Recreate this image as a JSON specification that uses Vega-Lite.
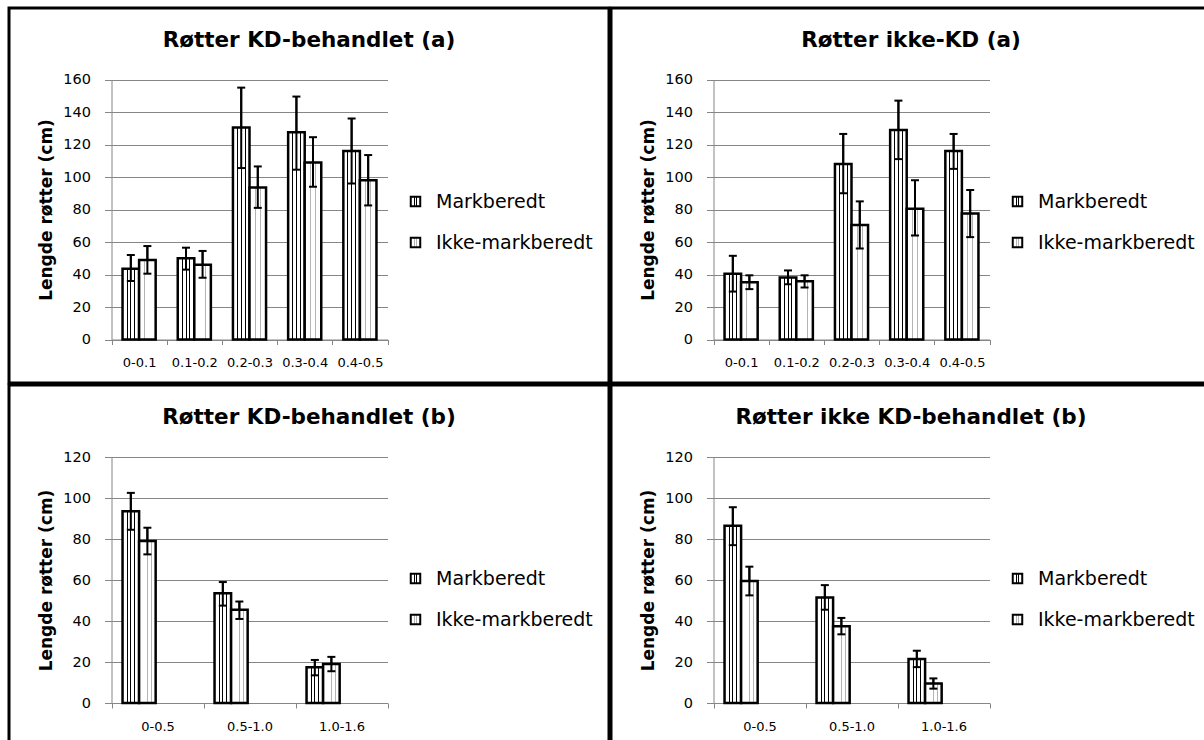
{
  "$schema": "https://vega.github.io/schema/vega-lite/v6.json",
  "padding": {"left": 7, "top": 6, "right": 0, "bottom": 0},
  "background": "white",
  "datasets": {
    "ta": [
      {"dybde": "0-0.1", "behandling": "Markberedt", "lengde": 43.5, "lav": 36, "hoy": 52},
      {"dybde": "0-0.1", "behandling": "Ikke-markberedt", "lengde": 49, "lav": 40.5, "hoy": 57.5},
      {"dybde": "0.1-0.2", "behandling": "Markberedt", "lengde": 50, "lav": 43, "hoy": 56.5},
      {"dybde": "0.1-0.2", "behandling": "Ikke-markberedt", "lengde": 46, "lav": 38, "hoy": 54.5},
      {"dybde": "0.2-0.3", "behandling": "Markberedt", "lengde": 130.5, "lav": 105.5, "hoy": 155},
      {"dybde": "0.2-0.3", "behandling": "Ikke-markberedt", "lengde": 93.5, "lav": 81, "hoy": 106.5},
      {"dybde": "0.3-0.4", "behandling": "Markberedt", "lengde": 127.5, "lav": 104.5, "hoy": 149.5},
      {"dybde": "0.3-0.4", "behandling": "Ikke-markberedt", "lengde": 109, "lav": 94, "hoy": 124.5},
      {"dybde": "0.4-0.5", "behandling": "Markberedt", "lengde": 116, "lav": 96, "hoy": 136},
      {"dybde": "0.4-0.5", "behandling": "Ikke-markberedt", "lengde": 98, "lav": 82.5, "hoy": 113.5}
    ],
    "tb": [
      {"dybde": "0-0.1", "behandling": "Markberedt", "lengde": 40.5, "lav": 29.5, "hoy": 51.5},
      {"dybde": "0-0.1", "behandling": "Ikke-markberedt", "lengde": 35.2, "lav": 31, "hoy": 39.5},
      {"dybde": "0.1-0.2", "behandling": "Markberedt", "lengde": 38.2, "lav": 34, "hoy": 42.5},
      {"dybde": "0.1-0.2", "behandling": "Ikke-markberedt", "lengde": 35.8, "lav": 32, "hoy": 39.5},
      {"dybde": "0.2-0.3", "behandling": "Markberedt", "lengde": 108, "lav": 90, "hoy": 126.5},
      {"dybde": "0.2-0.3", "behandling": "Ikke-markberedt", "lengde": 70.5, "lav": 56, "hoy": 85},
      {"dybde": "0.3-0.4", "behandling": "Markberedt", "lengde": 129, "lav": 111, "hoy": 147},
      {"dybde": "0.3-0.4", "behandling": "Ikke-markberedt", "lengde": 80.5, "lav": 64, "hoy": 98},
      {"dybde": "0.4-0.5", "behandling": "Markberedt", "lengde": 116, "lav": 105, "hoy": 126.5},
      {"dybde": "0.4-0.5", "behandling": "Ikke-markberedt", "lengde": 77.5, "lav": 63, "hoy": 92}
    ],
    "bl": [
      {"dybde": "0-0.5", "behandling": "Markberedt", "lengde": 93.5, "lav": 84.5, "hoy": 102.5},
      {"dybde": "0-0.5", "behandling": "Ikke-markberedt", "lengde": 79, "lav": 72.5, "hoy": 85.5},
      {"dybde": "0.5-1.0", "behandling": "Markberedt", "lengde": 53.5, "lav": 47.5, "hoy": 59},
      {"dybde": "0.5-1.0", "behandling": "Ikke-markberedt", "lengde": 45.5, "lav": 41, "hoy": 49.5},
      {"dybde": "1.0-1.6", "behandling": "Markberedt", "lengde": 17.5, "lav": 13.5, "hoy": 21},
      {"dybde": "1.0-1.6", "behandling": "Ikke-markberedt", "lengde": 19, "lav": 15.5, "hoy": 22.5}
    ],
    "br": [
      {"dybde": "0-0.5", "behandling": "Markberedt", "lengde": 86.5, "lav": 77, "hoy": 95.5},
      {"dybde": "0-0.5", "behandling": "Ikke-markberedt", "lengde": 59.5, "lav": 52.5, "hoy": 66.5},
      {"dybde": "0.5-1.0", "behandling": "Markberedt", "lengde": 51.5, "lav": 45.5, "hoy": 57.5},
      {"dybde": "0.5-1.0", "behandling": "Ikke-markberedt", "lengde": 37.5, "lav": 33.5, "hoy": 41.5},
      {"dybde": "1.0-1.6", "behandling": "Markberedt", "lengde": 21.5, "lav": 17.5, "hoy": 25.5},
      {"dybde": "1.0-1.6", "behandling": "Ikke-markberedt", "lengde": 9.5, "lav": 7, "hoy": 12}
    ]
  },
  "resolve": {"scale": {"color": "independent"}, "legend": {"color": "independent"}},
  "vconcat": [
    {
      "resolve": {"scale": {"color": "independent"}, "legend": {"color": "independent"}},
      "hconcat": [
        {
          "width": 600, "height": 375,
          "data": {"name": "ta"},
          "title": {"text": "Røtter KD-behandlet (a)", "fontSize": 21.5, "fontWeight": "bold", "color": "black", "anchor": "middle", "frame": "group", "orient": "top", "baseline": "middle", "offset": 0, "dy": 54},
          "resolve": {"scale": {"y": "independent"}},
          "encoding": {
            "x": {"field": "dybde", "type": "nominal", "sort": null, "scale": {"range": [102.5, 378.5], "paddingInner": 0, "paddingOuter": 0},
                  "axis": {"title": null, "labelAngle": 0, "labelFontSize": 13, "labelColor": "black", "domainColor": "#868686", "tickColor": "#868686", "tickSize": 5, "tickBand": "extent", "labelPadding": 12, "offset": -43.5, "grid": false}},
            "xOffset": {"field": "behandling", "type": "nominal", "sort": ["Markberedt", "Ikke-markberedt"], "scale": {"paddingInner": 0, "paddingOuter": 0.667}}
          },
          "layer": [
            {"mark": {"type": "rule", "strokeWidth": 2},
             "encoding": {"y": {"field": "lav", "type": "quantitative", "scale": {"domain": [0, 160], "range": [331.5, 71.5], "nice": false},
                     "axis": {"orient": "left", "offset": 0, "grid": true, "gridColor": "#868686", "values": [0, 20, 40, 60, 80, 100, 120, 140, 160], "labels": false, "ticks": false, "domain": false, "title": null}}, "y2": {"field": "hoy"},
               "color": {"field": "behandling", "type": "nominal", "sort": ["Markberedt", "Ikke-markberedt"], "scale": {"domain": ["Markberedt", "Ikke-markberedt"], "range": ["black", "black"]},
                 "legend": {"title": null, "orient": "none", "legendX": 397, "legendY": 184, "symbolType": "square", "symbolSize": 90, "symbolStrokeColor": "black", "symbolStrokeWidth": 2, "symbolOpacity": 1, "labelFontSize": 19, "labelColor": "black", "labelOffset": 11, "rowPadding": 21, "padding": 0, "labelLimit": 300,
                   "encode": {"symbols": {"update": {"stroke": {"value": "black"}, "strokeWidth": {"value": 2}, "fill": [{"test": "datum.value === 'Markberedt'", "value": {"gradient": "linear", "x1": 0, "x2": 1, "y1": 0, "y2": 0, "stops": [{"offset": 0, "color": "white"}, {"offset": 0.3, "color": "white"}, {"offset": 0.3, "color": "black"}, {"offset": 0.4, "color": "black"}, {"offset": 0.4, "color": "white"}, {"offset": 0.6, "color": "white"}, {"offset": 0.6, "color": "black"}, {"offset": 0.7, "color": "black"}, {"offset": 0.7, "color": "white"}, {"offset": 1, "color": "white"}]}}, {"value": {"gradient": "linear", "x1": 0, "x2": 1, "y1": 0, "y2": 0, "stops": [{"offset": 0, "color": "white"}, {"offset": 0.3, "color": "white"}, {"offset": 0.3, "color": "#b4b4b4"}, {"offset": 0.4, "color": "#b4b4b4"}, {"offset": 0.4, "color": "white"}, {"offset": 0.6, "color": "white"}, {"offset": 0.6, "color": "#b4b4b4"}, {"offset": 0.7, "color": "#b4b4b4"}, {"offset": 0.7, "color": "white"}, {"offset": 1, "color": "white"}]}}]}}}}}
             }},
            {"mark": {"type": "bar", "stroke": "black", "strokeWidth": 2.5, "opacity": 1},
             "encoding": {
               "y": {"field": "lengde", "type": "quantitative", "stack": null, "scale": {"domain": [0, 160], "range": [331.5, 71.5], "nice": false},
                     "axis": {"title": "Lengde røtter (cm)", "orient": "left", "grid": false, "values": [0, 20, 40, 60, 80, 100, 120, 140, 160]}},
               "fill": {"condition": {"test": "datum.behandling === 'Markberedt'", "value": {"gradient": "linear", "x1": 0, "x2": 1, "y1": 0, "y2": 0, "stops": [{"offset": 0, "color": "white"}, {"offset": 0.24, "color": "white"}, {"offset": 0.24, "color": "black"}, {"offset": 0.31, "color": "black"}, {"offset": 0.31, "color": "white"}, {"offset": 0.47, "color": "white"}, {"offset": 0.47, "color": "black"}, {"offset": 0.54, "color": "black"}, {"offset": 0.54, "color": "white"}, {"offset": 0.7, "color": "white"}, {"offset": 0.7, "color": "black"}, {"offset": 0.77, "color": "black"}, {"offset": 0.77, "color": "white"}, {"offset": 1, "color": "white"}]}},
                        "value": {"gradient": "linear", "x1": 0, "x2": 1, "y1": 0, "y2": 0, "stops": [{"offset": 0, "color": "white"}, {"offset": 0.32, "color": "white"}, {"offset": 0.32, "color": "#b4b4b4"}, {"offset": 0.37, "color": "#b4b4b4"}, {"offset": 0.37, "color": "white"}, {"offset": 0.63, "color": "white"}, {"offset": 0.63, "color": "#b4b4b4"}, {"offset": 0.68, "color": "#b4b4b4"}, {"offset": 0.68, "color": "white"}, {"offset": 1, "color": "white"}]}}
             }},
            {"mark": {"type": "rule", "strokeWidth": 2, "color": "black"},
             "encoding": {"y": {"field": "lav", "type": "quantitative", "scale": {"domain": [0, 160], "range": [331.5, 71.5], "nice": false}, "axis": null}, "y2": {"field": "hoy"}}},
            {"mark": {"type": "tick", "color": "black", "thickness": 2, "size": 8, "opacity": 1},
             "encoding": {"y": {"field": "lav", "type": "quantitative", "scale": {"domain": [0, 160], "range": [331.5, 71.5], "nice": false}, "axis": null}}},
            {"mark": {"type": "tick", "color": "black", "thickness": 2, "size": 8, "opacity": 1},
             "encoding": {"y": {"field": "hoy", "type": "quantitative", "scale": {"domain": [0, 160], "range": [331.5, 71.5], "nice": false}, "axis": null}}}
          ]
        },
        {
          "width": 600, "height": 375,
          "data": {"name": "tb"},
          "title": {"text": "Røtter ikke-KD (a)", "fontSize": 21.5, "fontWeight": "bold", "color": "black", "anchor": "middle", "frame": "group", "orient": "top", "baseline": "middle", "offset": 0, "dy": 54},
          "resolve": {"scale": {"y": "independent"}},
          "encoding": {
            "x": {"field": "dybde", "type": "nominal", "sort": null, "scale": {"range": [102.5, 378.5], "paddingInner": 0, "paddingOuter": 0},
                  "axis": {"title": null, "labelAngle": 0, "labelFontSize": 13, "labelColor": "black", "domainColor": "#868686", "tickColor": "#868686", "tickSize": 5, "tickBand": "extent", "labelPadding": 12, "offset": -43.5, "grid": false}},
            "xOffset": {"field": "behandling", "type": "nominal", "sort": ["Markberedt", "Ikke-markberedt"], "scale": {"paddingInner": 0, "paddingOuter": 0.667}}
          },
          "layer": [
            {"mark": {"type": "rule", "strokeWidth": 2},
             "encoding": {"y": {"field": "lav", "type": "quantitative", "scale": {"domain": [0, 160], "range": [331.5, 71.5], "nice": false},
                     "axis": {"orient": "left", "offset": 0, "grid": true, "gridColor": "#868686", "values": [0, 20, 40, 60, 80, 100, 120, 140, 160], "labels": false, "ticks": false, "domain": false, "title": null}}, "y2": {"field": "hoy"},
               "color": {"field": "behandling", "type": "nominal", "sort": ["Markberedt", "Ikke-markberedt"], "scale": {"domain": ["Markberedt", "Ikke-markberedt"], "range": ["black", "black"]},
                 "legend": {"title": null, "orient": "none", "legendX": 397, "legendY": 184, "symbolType": "square", "symbolSize": 90, "symbolStrokeColor": "black", "symbolStrokeWidth": 2, "symbolOpacity": 1, "labelFontSize": 19, "labelColor": "black", "labelOffset": 11, "rowPadding": 21, "padding": 0, "labelLimit": 300,
                   "encode": {"symbols": {"update": {"stroke": {"value": "black"}, "strokeWidth": {"value": 2}, "fill": [{"test": "datum.value === 'Markberedt'", "value": {"gradient": "linear", "x1": 0, "x2": 1, "y1": 0, "y2": 0, "stops": [{"offset": 0, "color": "white"}, {"offset": 0.3, "color": "white"}, {"offset": 0.3, "color": "black"}, {"offset": 0.4, "color": "black"}, {"offset": 0.4, "color": "white"}, {"offset": 0.6, "color": "white"}, {"offset": 0.6, "color": "black"}, {"offset": 0.7, "color": "black"}, {"offset": 0.7, "color": "white"}, {"offset": 1, "color": "white"}]}}, {"value": {"gradient": "linear", "x1": 0, "x2": 1, "y1": 0, "y2": 0, "stops": [{"offset": 0, "color": "white"}, {"offset": 0.3, "color": "white"}, {"offset": 0.3, "color": "#b4b4b4"}, {"offset": 0.4, "color": "#b4b4b4"}, {"offset": 0.4, "color": "white"}, {"offset": 0.6, "color": "white"}, {"offset": 0.6, "color": "#b4b4b4"}, {"offset": 0.7, "color": "#b4b4b4"}, {"offset": 0.7, "color": "white"}, {"offset": 1, "color": "white"}]}}]}}}}}
             }},
            {"mark": {"type": "bar", "stroke": "black", "strokeWidth": 2.5, "opacity": 1},
             "encoding": {
               "y": {"field": "lengde", "type": "quantitative", "stack": null, "scale": {"domain": [0, 160], "range": [331.5, 71.5], "nice": false},
                     "axis": {"title": "Lengde røtter (cm)", "orient": "left", "grid": false, "values": [0, 20, 40, 60, 80, 100, 120, 140, 160]}},
               "fill": {"condition": {"test": "datum.behandling === 'Markberedt'", "value": {"gradient": "linear", "x1": 0, "x2": 1, "y1": 0, "y2": 0, "stops": [{"offset": 0, "color": "white"}, {"offset": 0.24, "color": "white"}, {"offset": 0.24, "color": "black"}, {"offset": 0.31, "color": "black"}, {"offset": 0.31, "color": "white"}, {"offset": 0.47, "color": "white"}, {"offset": 0.47, "color": "black"}, {"offset": 0.54, "color": "black"}, {"offset": 0.54, "color": "white"}, {"offset": 0.7, "color": "white"}, {"offset": 0.7, "color": "black"}, {"offset": 0.77, "color": "black"}, {"offset": 0.77, "color": "white"}, {"offset": 1, "color": "white"}]}},
                        "value": {"gradient": "linear", "x1": 0, "x2": 1, "y1": 0, "y2": 0, "stops": [{"offset": 0, "color": "white"}, {"offset": 0.32, "color": "white"}, {"offset": 0.32, "color": "#b4b4b4"}, {"offset": 0.37, "color": "#b4b4b4"}, {"offset": 0.37, "color": "white"}, {"offset": 0.63, "color": "white"}, {"offset": 0.63, "color": "#b4b4b4"}, {"offset": 0.68, "color": "#b4b4b4"}, {"offset": 0.68, "color": "white"}, {"offset": 1, "color": "white"}]}}
             }},
            {"mark": {"type": "rule", "strokeWidth": 2, "color": "black"},
             "encoding": {"y": {"field": "lav", "type": "quantitative", "scale": {"domain": [0, 160], "range": [331.5, 71.5], "nice": false}, "axis": null}, "y2": {"field": "hoy"}}},
            {"mark": {"type": "tick", "color": "black", "thickness": 2, "size": 8, "opacity": 1},
             "encoding": {"y": {"field": "lav", "type": "quantitative", "scale": {"domain": [0, 160], "range": [331.5, 71.5], "nice": false}, "axis": null}}},
            {"mark": {"type": "tick", "color": "black", "thickness": 2, "size": 8, "opacity": 1},
             "encoding": {"y": {"field": "hoy", "type": "quantitative", "scale": {"domain": [0, 160], "range": [331.5, 71.5], "nice": false}, "axis": null}}}
          ]
        }
      ]
    },
    {
      "resolve": {"scale": {"color": "independent"}, "legend": {"color": "independent"}},
      "hconcat": [
        {
          "width": 600, "height": 375,
          "data": {"name": "bl"},
          "title": {"text": "Røtter KD-behandlet (b)", "fontSize": 21.5, "fontWeight": "bold", "color": "black", "anchor": "middle", "frame": "group", "orient": "top", "baseline": "middle", "offset": 0, "dy": 54},
          "resolve": {"scale": {"y": "independent"}},
          "encoding": {
            "x": {"field": "dybde", "type": "nominal", "sort": null, "scale": {"range": [102.5, 378.5], "paddingInner": 0, "paddingOuter": 0},
                  "axis": {"title": null, "labelAngle": 0, "labelFontSize": 13, "labelColor": "black", "domainColor": "#868686", "tickColor": "#868686", "tickSize": 5, "tickBand": "extent", "labelPadding": 12, "offset": -57, "grid": false}},
            "xOffset": {"field": "behandling", "type": "nominal", "sort": ["Markberedt", "Ikke-markberedt"], "scale": {"paddingInner": 0, "paddingOuter": 0.667}}
          },
          "layer": [
            {"mark": {"type": "rule", "strokeWidth": 2},
             "encoding": {"y": {"field": "lav", "type": "quantitative", "scale": {"domain": [0, 120], "range": [318, 72], "nice": false},
                     "axis": {"orient": "left", "offset": 0, "grid": true, "gridColor": "#868686", "values": [0, 20, 40, 60, 80, 100, 120], "labels": false, "ticks": false, "domain": false, "title": null}}, "y2": {"field": "hoy"},
               "color": {"field": "behandling", "type": "nominal", "sort": ["Markberedt", "Ikke-markberedt"], "scale": {"domain": ["Markberedt", "Ikke-markberedt"], "range": ["black", "black"]},
                 "legend": {"title": null, "orient": "none", "legendX": 397, "legendY": 184, "symbolType": "square", "symbolSize": 90, "symbolStrokeColor": "black", "symbolStrokeWidth": 2, "symbolOpacity": 1, "labelFontSize": 19, "labelColor": "black", "labelOffset": 11, "rowPadding": 21, "padding": 0, "labelLimit": 300,
                   "encode": {"symbols": {"update": {"stroke": {"value": "black"}, "strokeWidth": {"value": 2}, "fill": [{"test": "datum.value === 'Markberedt'", "value": {"gradient": "linear", "x1": 0, "x2": 1, "y1": 0, "y2": 0, "stops": [{"offset": 0, "color": "white"}, {"offset": 0.3, "color": "white"}, {"offset": 0.3, "color": "black"}, {"offset": 0.4, "color": "black"}, {"offset": 0.4, "color": "white"}, {"offset": 0.6, "color": "white"}, {"offset": 0.6, "color": "black"}, {"offset": 0.7, "color": "black"}, {"offset": 0.7, "color": "white"}, {"offset": 1, "color": "white"}]}}, {"value": {"gradient": "linear", "x1": 0, "x2": 1, "y1": 0, "y2": 0, "stops": [{"offset": 0, "color": "white"}, {"offset": 0.3, "color": "white"}, {"offset": 0.3, "color": "#b4b4b4"}, {"offset": 0.4, "color": "#b4b4b4"}, {"offset": 0.4, "color": "white"}, {"offset": 0.6, "color": "white"}, {"offset": 0.6, "color": "#b4b4b4"}, {"offset": 0.7, "color": "#b4b4b4"}, {"offset": 0.7, "color": "white"}, {"offset": 1, "color": "white"}]}}]}}}}}
             }},
            {"mark": {"type": "bar", "stroke": "black", "strokeWidth": 2.5, "opacity": 1},
             "encoding": {
               "y": {"field": "lengde", "type": "quantitative", "stack": null, "scale": {"domain": [0, 120], "range": [318, 72], "nice": false},
                     "axis": {"title": "Lengde røtter (cm)", "orient": "left", "grid": false, "values": [0, 20, 40, 60, 80, 100, 120]}},
               "fill": {"condition": {"test": "datum.behandling === 'Markberedt'", "value": {"gradient": "linear", "x1": 0, "x2": 1, "y1": 0, "y2": 0, "stops": [{"offset": 0, "color": "white"}, {"offset": 0.24, "color": "white"}, {"offset": 0.24, "color": "black"}, {"offset": 0.3, "color": "black"}, {"offset": 0.3, "color": "white"}, {"offset": 0.47, "color": "white"}, {"offset": 0.47, "color": "black"}, {"offset": 0.53, "color": "black"}, {"offset": 0.53, "color": "white"}, {"offset": 0.7, "color": "white"}, {"offset": 0.7, "color": "black"}, {"offset": 0.76, "color": "black"}, {"offset": 0.76, "color": "white"}, {"offset": 1, "color": "white"}]}},
                        "value": {"gradient": "linear", "x1": 0, "x2": 1, "y1": 0, "y2": 0, "stops": [{"offset": 0, "color": "white"}, {"offset": 0.22, "color": "white"}, {"offset": 0.22, "color": "#b4b4b4"}, {"offset": 0.26, "color": "#b4b4b4"}, {"offset": 0.26, "color": "white"}, {"offset": 0.48, "color": "white"}, {"offset": 0.48, "color": "#b4b4b4"}, {"offset": 0.52, "color": "#b4b4b4"}, {"offset": 0.52, "color": "white"}, {"offset": 0.74, "color": "white"}, {"offset": 0.74, "color": "#b4b4b4"}, {"offset": 0.78, "color": "#b4b4b4"}, {"offset": 0.78, "color": "white"}, {"offset": 1, "color": "white"}]}}
             }},
            {"mark": {"type": "rule", "strokeWidth": 2, "color": "black"},
             "encoding": {"y": {"field": "lav", "type": "quantitative", "scale": {"domain": [0, 120], "range": [318, 72], "nice": false}, "axis": null}, "y2": {"field": "hoy"}}},
            {"mark": {"type": "tick", "color": "black", "thickness": 2, "size": 8, "opacity": 1},
             "encoding": {"y": {"field": "lav", "type": "quantitative", "scale": {"domain": [0, 120], "range": [318, 72], "nice": false}, "axis": null}}},
            {"mark": {"type": "tick", "color": "black", "thickness": 2, "size": 8, "opacity": 1},
             "encoding": {"y": {"field": "hoy", "type": "quantitative", "scale": {"domain": [0, 120], "range": [318, 72], "nice": false}, "axis": null}}}
          ]
        },
        {
          "width": 600, "height": 375,
          "data": {"name": "br"},
          "title": {"text": "Røtter ikke KD-behandlet (b)", "fontSize": 21.5, "fontWeight": "bold", "color": "black", "anchor": "middle", "frame": "group", "orient": "top", "baseline": "middle", "offset": 0, "dy": 54},
          "resolve": {"scale": {"y": "independent"}},
          "encoding": {
            "x": {"field": "dybde", "type": "nominal", "sort": null, "scale": {"range": [102.5, 378.5], "paddingInner": 0, "paddingOuter": 0},
                  "axis": {"title": null, "labelAngle": 0, "labelFontSize": 13, "labelColor": "black", "domainColor": "#868686", "tickColor": "#868686", "tickSize": 5, "tickBand": "extent", "labelPadding": 12, "offset": -57, "grid": false}},
            "xOffset": {"field": "behandling", "type": "nominal", "sort": ["Markberedt", "Ikke-markberedt"], "scale": {"paddingInner": 0, "paddingOuter": 0.667}}
          },
          "layer": [
            {"mark": {"type": "rule", "strokeWidth": 2},
             "encoding": {"y": {"field": "lav", "type": "quantitative", "scale": {"domain": [0, 120], "range": [318, 72], "nice": false},
                     "axis": {"orient": "left", "offset": 0, "grid": true, "gridColor": "#868686", "values": [0, 20, 40, 60, 80, 100, 120], "labels": false, "ticks": false, "domain": false, "title": null}}, "y2": {"field": "hoy"},
               "color": {"field": "behandling", "type": "nominal", "sort": ["Markberedt", "Ikke-markberedt"], "scale": {"domain": ["Markberedt", "Ikke-markberedt"], "range": ["black", "black"]},
                 "legend": {"title": null, "orient": "none", "legendX": 397, "legendY": 184, "symbolType": "square", "symbolSize": 90, "symbolStrokeColor": "black", "symbolStrokeWidth": 2, "symbolOpacity": 1, "labelFontSize": 19, "labelColor": "black", "labelOffset": 11, "rowPadding": 21, "padding": 0, "labelLimit": 300,
                   "encode": {"symbols": {"update": {"stroke": {"value": "black"}, "strokeWidth": {"value": 2}, "fill": [{"test": "datum.value === 'Markberedt'", "value": {"gradient": "linear", "x1": 0, "x2": 1, "y1": 0, "y2": 0, "stops": [{"offset": 0, "color": "white"}, {"offset": 0.3, "color": "white"}, {"offset": 0.3, "color": "black"}, {"offset": 0.4, "color": "black"}, {"offset": 0.4, "color": "white"}, {"offset": 0.6, "color": "white"}, {"offset": 0.6, "color": "black"}, {"offset": 0.7, "color": "black"}, {"offset": 0.7, "color": "white"}, {"offset": 1, "color": "white"}]}}, {"value": {"gradient": "linear", "x1": 0, "x2": 1, "y1": 0, "y2": 0, "stops": [{"offset": 0, "color": "white"}, {"offset": 0.3, "color": "white"}, {"offset": 0.3, "color": "#b4b4b4"}, {"offset": 0.4, "color": "#b4b4b4"}, {"offset": 0.4, "color": "white"}, {"offset": 0.6, "color": "white"}, {"offset": 0.6, "color": "#b4b4b4"}, {"offset": 0.7, "color": "#b4b4b4"}, {"offset": 0.7, "color": "white"}, {"offset": 1, "color": "white"}]}}]}}}}}
             }},
            {"mark": {"type": "bar", "stroke": "black", "strokeWidth": 2.5, "opacity": 1},
             "encoding": {
               "y": {"field": "lengde", "type": "quantitative", "stack": null, "scale": {"domain": [0, 120], "range": [318, 72], "nice": false},
                     "axis": {"title": "Lengde røtter (cm)", "orient": "left", "grid": false, "values": [0, 20, 40, 60, 80, 100, 120]}},
               "fill": {"condition": {"test": "datum.behandling === 'Markberedt'", "value": {"gradient": "linear", "x1": 0, "x2": 1, "y1": 0, "y2": 0, "stops": [{"offset": 0, "color": "white"}, {"offset": 0.24, "color": "white"}, {"offset": 0.24, "color": "black"}, {"offset": 0.3, "color": "black"}, {"offset": 0.3, "color": "white"}, {"offset": 0.47, "color": "white"}, {"offset": 0.47, "color": "black"}, {"offset": 0.53, "color": "black"}, {"offset": 0.53, "color": "white"}, {"offset": 0.7, "color": "white"}, {"offset": 0.7, "color": "black"}, {"offset": 0.76, "color": "black"}, {"offset": 0.76, "color": "white"}, {"offset": 1, "color": "white"}]}},
                        "value": {"gradient": "linear", "x1": 0, "x2": 1, "y1": 0, "y2": 0, "stops": [{"offset": 0, "color": "white"}, {"offset": 0.22, "color": "white"}, {"offset": 0.22, "color": "#b4b4b4"}, {"offset": 0.26, "color": "#b4b4b4"}, {"offset": 0.26, "color": "white"}, {"offset": 0.48, "color": "white"}, {"offset": 0.48, "color": "#b4b4b4"}, {"offset": 0.52, "color": "#b4b4b4"}, {"offset": 0.52, "color": "white"}, {"offset": 0.74, "color": "white"}, {"offset": 0.74, "color": "#b4b4b4"}, {"offset": 0.78, "color": "#b4b4b4"}, {"offset": 0.78, "color": "white"}, {"offset": 1, "color": "white"}]}}
             }},
            {"mark": {"type": "rule", "strokeWidth": 2, "color": "black"},
             "encoding": {"y": {"field": "lav", "type": "quantitative", "scale": {"domain": [0, 120], "range": [318, 72], "nice": false}, "axis": null}, "y2": {"field": "hoy"}}},
            {"mark": {"type": "tick", "color": "black", "thickness": 2, "size": 8, "opacity": 1},
             "encoding": {"y": {"field": "lav", "type": "quantitative", "scale": {"domain": [0, 120], "range": [318, 72], "nice": false}, "axis": null}}},
            {"mark": {"type": "tick", "color": "black", "thickness": 2, "size": 8, "opacity": 1},
             "encoding": {"y": {"field": "hoy", "type": "quantitative", "scale": {"domain": [0, 120], "range": [318, 72], "nice": false}, "axis": null}}}
          ]
        }
      ]
    }
  ],
  "config": {
    "font": "DejaVu Sans",
    "view": {"stroke": "black", "strokeWidth": 3},
    "concat": {"spacing": -3},
    "axis": {"domainWidth": 1, "tickWidth": 1, "gridWidth": 1, "gridOpacity": 1},
    "axisY": {"titleFontSize": 17, "titleFontWeight": "bold", "titleColor": "black", "titlePadding": 7, "labelFontSize": 14.5, "labelColor": "black", "labelPadding": 14, "tickSize": 7, "tickColor": "#868686", "domainColor": "#868686", "gridColor": "#868686", "offset": -102.5}
  }
}
